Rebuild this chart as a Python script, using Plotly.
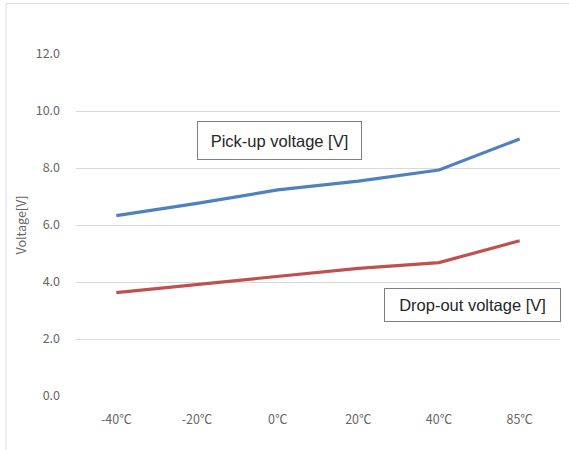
import plotly.graph_objects as go

categories = ["-40℃", "-20℃", "0℃", "20℃", "40℃", "85℃"]
pickup_voltage = [6.33, 6.76, 7.23, 7.54, 7.93, 9.02]
dropout_voltage = [3.63, 3.92, 4.19, 4.48, 4.68, 5.45]
y_ticks = [0, 2, 4, 6, 8, 10, 12]
y_tick_labels = ["0.0", "2.0", "4.0", "6.0", "8.0", "10.0", "12.0"]

fig = go.Figure()
fig.add_trace(go.Scatter(x=categories, y=pickup_voltage, mode="lines",
                         line=dict(color="#4F81BD", width=3.2), name="Pick-up voltage [V]"))
fig.add_trace(go.Scatter(x=categories, y=dropout_voltage, mode="lines",
                         line=dict(color="#C0504D", width=3.2), name="Drop-out voltage [V]"))

tick_font = dict(family="Noto Sans CJK JP", size=12.5, color="#666666")

fig.update_layout(
    width=569, height=450,
    margin=dict(l=76, r=9, t=54, b=54),
    paper_bgcolor="white", plot_bgcolor="white",
    showlegend=False,
    xaxis=dict(type="category", range=[-0.5, 5.5], showgrid=False, zeroline=False,
               showline=False, tickfont=tick_font, ticks="", ticklabelstandoff=14),
    yaxis=dict(range=[0, 12], tickvals=y_ticks, ticktext=y_tick_labels,
               showgrid=True, gridcolor="#d9d9d9", gridwidth=1, zeroline=False,
               showline=False, tickfont=tick_font, ticks="", ticklabelstandoff=15,
               title=dict(text="Voltage[V]", font=tick_font, standoff=6)),
    shapes=[dict(type="rect", xref="paper", yref="paper",
                 x0=-0.1446, x1=1.2, y0=-0.3, y1=1.1477,
                 line=dict(color="#d9d9d9", width=1), fillcolor="rgba(0,0,0,0)",
                 layer="below")],
    annotations=[
        dict(text="Pick-up voltage [V]", xref="paper", yref="paper",
             x=0.42, y=0.747, showarrow=False, xanchor="center", yanchor="middle",
             font=dict(family="Arial", size=16.5, color="#262626"),
             bordercolor="#7f7f7f", borderwidth=1, borderpad=0,
             width=163, height=37, bgcolor="white"),
        dict(text="Drop-out voltage [V]", xref="paper", yref="paper",
             x=0.819, y=0.266, showarrow=False, xanchor="center", yanchor="middle",
             font=dict(family="Arial", size=16.5, color="#262626"),
             bordercolor="#7f7f7f", borderwidth=1, borderpad=0,
             width=175, height=32, bgcolor="white"),
    ],
)

fig.write_html("out.html", config={"displayModeBar": False},
               post_script="document.body.style.margin='0';")
